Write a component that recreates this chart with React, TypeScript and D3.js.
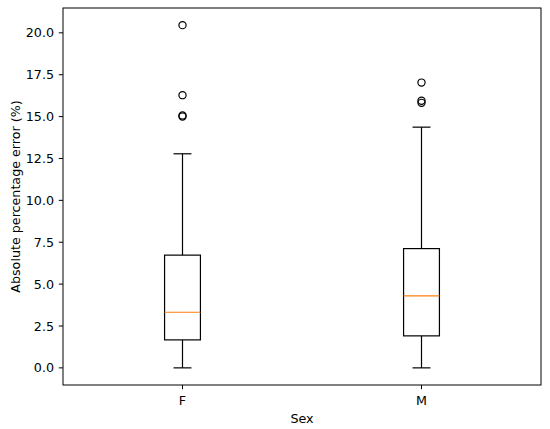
import React from 'react';
import * as d3 from 'd3';

const categories = ['F', 'M'];
const whiskerLow = [0.0, 0.0];
const q1 = [1.67, 1.91];
const medians = [3.32, 4.3];
const q3 = [6.73, 7.12];
const whiskerHigh = [12.78, 14.37];
const outliers = [
  [15.0, 15.07, 16.28, 20.46],
  [15.82, 15.95, 17.03],
];
const yTicks = [0, 2.5, 5, 7.5, 10, 12.5, 15, 17.5, 20];

const width = 550;
const height = 429;
const margin = { top: 8, right: 9, bottom: 44, left: 63 };

const App: React.FC = () => {
  const plotW = width - margin.left - margin.right;
  const plotH = height - margin.top - margin.bottom;

  const x = d3.scaleLinear().domain([0.5, 2.5]).range([0, plotW]);
  const y = d3.scaleLinear().domain([-1.023, 21.483]).range([plotH, 0]);

  const boxW = x(1.15) - x(1);
  const capW = boxW / 2;
  const font = 'DejaVu Sans, sans-serif';
  const fs = 12.7;

  return (
    <svg width={width} height={height} style={{ position: 'absolute', left: 0, top: 0 }}>
      <rect width={width} height={height} fill="#fff" />
      <g transform={`translate(${margin.left},${margin.top})`}>
        {categories.map((c, i) => {
          const cx = x(i + 1);
          return (
            <g key={c} stroke="#000" strokeWidth={1.2} fill="none">
              <line x1={cx} x2={cx} y1={y(whiskerLow[i])} y2={y(q1[i])} />
              <line x1={cx} x2={cx} y1={y(q3[i])} y2={y(whiskerHigh[i])} />
              <line x1={cx - capW / 2} x2={cx + capW / 2} y1={y(whiskerLow[i])} y2={y(whiskerLow[i])} />
              <line x1={cx - capW / 2} x2={cx + capW / 2} y1={y(whiskerHigh[i])} y2={y(whiskerHigh[i])} />
              <rect x={cx - boxW / 2} y={y(q3[i])} width={boxW} height={y(q1[i]) - y(q3[i])} />
              <line x1={cx - boxW / 2} x2={cx + boxW / 2} y1={y(medians[i])} y2={y(medians[i])} stroke="#ff7f0e" />
              {outliers[i].map((v, j) => (
                <circle key={j} cx={cx} cy={y(v)} r={3.6} />
              ))}
            </g>
          );
        })}
        <rect x={0} y={0} width={plotW} height={plotH} fill="none" stroke="#000" strokeWidth={1} />
        {yTicks.map(t => (
          <g key={t} transform={`translate(0,${y(t)})`}>
            <line x1={-4.2} x2={0} stroke="#000" strokeWidth={1} />
            <text x={-9} dy="0.36em" textAnchor="end" fontFamily={font} fontSize={fs} fill="#000">
              {t.toFixed(1)}
            </text>
          </g>
        ))}
        {categories.map((c, i) => (
          <g key={c} transform={`translate(${x(i + 1)},${plotH})`}>
            <line y1={0} y2={4.2} stroke="#000" strokeWidth={1} />
            <text y={19.5} textAnchor="middle" fontFamily={font} fontSize={fs} fill="#000">
              {c}
            </text>
          </g>
        ))}
        <text x={plotW / 2} y={plotH + 38} textAnchor="middle" fontFamily={font} fontSize={fs} fill="#000">
          Sex
        </text>
        <text
          transform={`translate(${-43.5},${plotH / 2}) rotate(-90)`}
          textAnchor="middle"
          fontFamily={font}
          fontSize={fs}
          fill="#000"
        >
          Absolute percentage error (%)
        </text>
      </g>
    </svg>
  );
};

export default App;
